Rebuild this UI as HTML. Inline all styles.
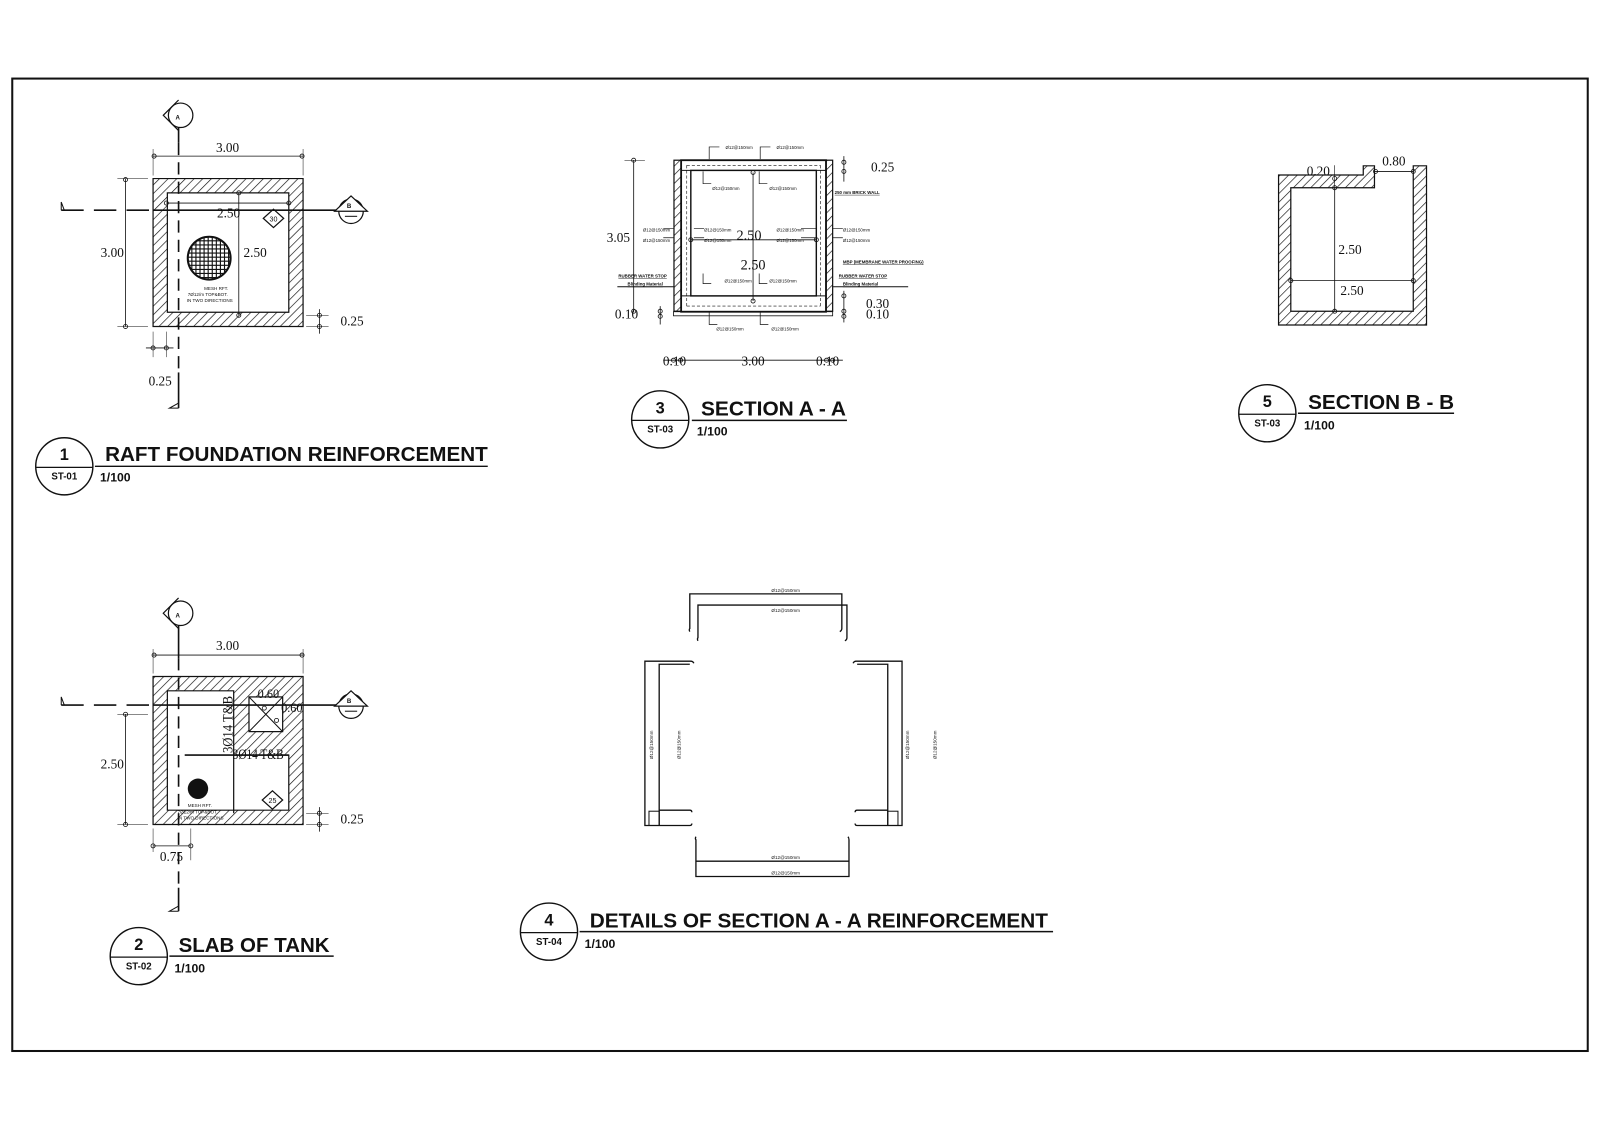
<!DOCTYPE html>
<html><head><meta charset="utf-8"><style>
html,body{margin:0;padding:0;background:#fff;}
svg{display:block;}
.s{font-family:"Liberation Serif",serif;fill:#111;}
.b{font-family:"Liberation Sans",sans-serif;font-weight:bold;fill:#111;}
.t{font-family:"Liberation Sans",sans-serif;fill:#111;}
</style></head><body>
<svg width="1600" height="1131" viewBox="0 0 1568 1108.4" xmlns="http://www.w3.org/2000/svg">
<defs>
<pattern id="h" patternUnits="userSpaceOnUse" width="6" height="6" patternTransform="rotate(45)">
<rect width="6" height="6" fill="#fff"/><line x1="0" y1="0" x2="0" y2="6" stroke="#111" stroke-width="1.3"/>
</pattern>
</defs>
<rect x="12" y="77" width="1544" height="953" fill="none" stroke="#111" stroke-width="2"/>

<!-- ===== Drawing 1 ===== -->
<g stroke="#111" fill="none">
<path d="M150,175H297V320H150Z M164,189V306H283V189Z" fill="url(#h)" fill-rule="evenodd" stroke-width="1.2"/>
<line x1="175" y1="103" x2="175" y2="140" stroke-width="1.6"/>
<line x1="175" y1="140" x2="175" y2="365" stroke-width="1.6" stroke-dasharray="12,7"/>
<line x1="175" y1="365" x2="175" y2="400" stroke-width="1.6"/>
<path d="M175,400 L166,400 L175,395" stroke-width="1"/>
<circle cx="177" cy="113" r="12" fill="#fff" stroke-width="1.2"/>
<path d="M175,98 L160,113 L175,128" stroke-width="1.2"/>
<line x1="60" y1="206" x2="150" y2="206" stroke-width="1.6" stroke-dasharray="22,10"/>
<line x1="150" y1="206" x2="330" y2="206" stroke-width="1.6"/>
<path d="M60,206 V198 L63,206" stroke-width="1"/>
<circle cx="344" cy="207" r="12" fill="#fff" stroke-width="1.2"/>
<path d="M328,207 L344,192 L360,207 Z" fill="#fff" stroke-width="1.2"/>
<line x1="338" y1="212" x2="350" y2="212" stroke-width="1"/>
<line x1="150" y1="153" x2="297" y2="153" stroke-width="0.8"/>
<line x1="150" y1="146" x2="150" y2="172" stroke-width="0.5"/>
<line x1="297" y1="146" x2="297" y2="172" stroke-width="0.5"/>
<circle cx="151" cy="153" r="2" stroke-width="0.8"/><circle cx="296" cy="153" r="2" stroke-width="0.8"/>
<line x1="123" y1="175" x2="123" y2="320" stroke-width="0.8"/>
<line x1="115" y1="175" x2="145" y2="175" stroke-width="0.5"/>
<line x1="115" y1="320" x2="145" y2="320" stroke-width="0.5"/>
<circle cx="123" cy="176" r="2" stroke-width="0.8"/><circle cx="123" cy="320" r="2" stroke-width="0.8"/>
<line x1="163" y1="199" x2="283" y2="199" stroke-width="0.8"/>
<circle cx="163" cy="199" r="2" stroke-width="0.8"/><circle cx="283" cy="199" r="2" stroke-width="0.8"/>
<line x1="234" y1="189" x2="234" y2="309" stroke-width="0.8"/>
<circle cx="234" cy="189" r="2" stroke-width="0.8"/><circle cx="234" cy="309" r="2" stroke-width="0.8"/>
<line x1="313" y1="303" x2="313" y2="327" stroke-width="0.8"/>
<line x1="300" y1="309" x2="322" y2="309" stroke-width="0.5"/><line x1="300" y1="320" x2="322" y2="320" stroke-width="0.5"/>
<circle cx="313" cy="309" r="2" stroke-width="0.8"/><circle cx="313" cy="320" r="2" stroke-width="0.8"/>
<line x1="143" y1="341" x2="170" y2="341" stroke-width="0.8"/>
<line x1="150" y1="325" x2="150" y2="350" stroke-width="0.5"/><line x1="163" y1="325" x2="163" y2="350" stroke-width="0.5"/>
<circle cx="150" cy="341" r="2" stroke-width="0.8"/><circle cx="163" cy="341" r="2" stroke-width="0.8"/>
<path d="M268,205 L278,214 L268,223 L258,214 Z" stroke-width="1.2"/>
</g>
<g>
<clipPath id="c1"><circle cx="205" cy="253" r="21"/></clipPath>
<circle cx="205" cy="253" r="21" fill="#fff" stroke="#111" stroke-width="2"/>
<g clip-path="url(#c1)" stroke="#111" stroke-width="1.1">
<path d="M184,236H226M184,240H226M184,244H226M184,248H226M184,252H226M184,256H226M184,260H226M184,264H226M184,268H226M184,272H226M188,232V274M192,232V274M196,232V274M200,232V274M204,232V274M208,232V274M212,232V274M216,232V274M220,232V274M224,232V274"/>
</g>
</g>
<text x="223" y="149" class="s" font-size="13" text-anchor="middle">3.00</text>
<text x="110" y="252" class="s" font-size="13" text-anchor="middle">3.00</text>
<text x="224" y="213" class="s" font-size="13" text-anchor="middle">2.50</text>
<text x="250" y="252" class="s" font-size="13" text-anchor="middle">2.50</text>
<text x="345" y="319" class="s" font-size="13" text-anchor="middle">0.25</text>
<text x="157" y="378" class="s" font-size="13" text-anchor="middle">0.25</text>
<text x="268" y="217" class="t" font-size="7" text-anchor="middle">30</text>
<text x="200" y="284" class="t" font-size="4.5">MESH RFT.</text>
<text x="184" y="290" class="t" font-size="4.5">7Ø12/m   TOP&amp;BOT.</text>
<text x="183" y="296" class="t" font-size="4.5">IN TWO DIRECTIONS</text>
<text x="172" y="117" class="b" font-size="6">A</text>
<text x="340" y="204" class="b" font-size="6">B</text>

<!-- Title 1 -->
<g stroke="#111" fill="none"><circle cx="63" cy="457" r="28" stroke-width="1.4"/><line x1="35" y1="458" x2="91" y2="458" stroke-width="1.2"/><line x1="93" y1="457" x2="478" y2="457" stroke-width="1.4"/></g>
<text x="63" y="451" class="b" font-size="16" text-anchor="middle">1</text>
<text x="63" y="470" class="b" font-size="9.5" text-anchor="middle">ST-01</text>
<text x="103" y="452" class="b" font-size="19.5" textLength="375" lengthAdjust="spacingAndGlyphs">RAFT FOUNDATION REINFORCEMENT</text>
<text x="98" y="472" class="b" font-size="12">1/100</text>

<!-- ===== Drawing 2 ===== -->
<g stroke="#111" fill="none">
<path d="M150,663H297V808H150Z M164,677V794H283V740H229V677Z" fill="url(#h)" fill-rule="evenodd" stroke-width="1.2"/>
<rect x="244" y="683" width="33" height="34" fill="#fff" stroke-width="1.2"/>
<path d="M244,683L277,717M277,683L244,717" stroke-width="1"/>
<line x1="181" y1="740" x2="283" y2="740" stroke-width="1.6"/>
<line x1="229" y1="740" x2="229" y2="797" stroke-width="1.2"/>
<line x1="175" y1="600" x2="175" y2="645" stroke-width="1.6"/>
<line x1="175" y1="645" x2="175" y2="870" stroke-width="1.6" stroke-dasharray="12,7"/>
<line x1="175" y1="870" x2="175" y2="893" stroke-width="1.6"/>
<path d="M175,893 L166,893 L175,888" stroke-width="1"/>
<circle cx="177" cy="601" r="12" fill="#fff" stroke-width="1.2"/>
<path d="M175,586 L160,601 L175,616" stroke-width="1.2"/>
<line x1="60" y1="691" x2="150" y2="691" stroke-width="1.6" stroke-dasharray="22,10"/>
<line x1="150" y1="691" x2="330" y2="691" stroke-width="1.6"/>
<path d="M60,691 V683 L63,691" stroke-width="1"/>
<circle cx="344" cy="692" r="12" fill="#fff" stroke-width="1.2"/>
<path d="M328,692 L344,677 L360,692 Z" fill="#fff" stroke-width="1.2"/>
<line x1="338" y1="697" x2="350" y2="697" stroke-width="1"/>
<line x1="150" y1="642" x2="297" y2="642" stroke-width="0.8"/>
<line x1="150" y1="635" x2="297" y2="635" stroke-width="0" />
<line x1="150" y1="636" x2="150" y2="660" stroke-width="0.5"/><line x1="297" y1="636" x2="297" y2="660" stroke-width="0.5"/>
<circle cx="151" cy="642" r="2" stroke-width="0.8"/><circle cx="296" cy="642" r="2" stroke-width="0.8"/>
<line x1="123" y1="700" x2="123" y2="808" stroke-width="0.8"/>
<line x1="115" y1="700" x2="145" y2="700" stroke-width="0.5"/><line x1="115" y1="808" x2="145" y2="808" stroke-width="0.5"/>
<circle cx="123" cy="700" r="2" stroke-width="0.8"/><circle cx="123" cy="808" r="2" stroke-width="0.8"/>
<line x1="313" y1="791" x2="313" y2="815" stroke-width="0.8"/>
<line x1="300" y1="797" x2="322" y2="797" stroke-width="0.5"/><line x1="300" y1="808" x2="322" y2="808" stroke-width="0.5"/>
<circle cx="313" cy="797" r="2" stroke-width="0.8"/><circle cx="313" cy="808" r="2" stroke-width="0.8"/>
<line x1="150" y1="829" x2="187" y2="829" stroke-width="0.8"/>
<line x1="150" y1="812" x2="150" y2="835" stroke-width="0.5"/><line x1="187" y1="812" x2="187" y2="843" stroke-width="0.5"/>
<circle cx="150" cy="829" r="2" stroke-width="0.8"/><circle cx="187" cy="829" r="2" stroke-width="0.8"/>
<path d="M267,775 L277,784 L267,793 L257,784 Z" stroke-width="1.2"/>
<circle cx="259" cy="694" r="2" stroke-width="0.8"/><circle cx="271" cy="706" r="2" stroke-width="0.8"/>
</g>
<circle cx="194" cy="773" r="10" fill="#111"/>
<text x="223" y="637" class="s" font-size="13" text-anchor="middle">3.00</text>
<text x="110" y="753" class="s" font-size="13" text-anchor="middle">2.50</text>
<text x="345" y="807" class="s" font-size="13" text-anchor="middle">0.25</text>
<text x="168" y="844" class="s" font-size="13" text-anchor="middle">0.75</text>
<text x="263" y="684" class="s" font-size="12" text-anchor="middle">0.60</text>
<text x="286" y="698" class="s" font-size="12" text-anchor="middle">0.60</text>
<text x="253" y="744" class="s" font-size="14" text-anchor="middle" textLength="50" lengthAdjust="spacingAndGlyphs">3Ø14 T&amp;B</text>
<text transform="translate(228,738) rotate(-90)" class="s" font-size="14" textLength="56" lengthAdjust="spacingAndGlyphs">3Ø14 T&amp;B</text>
<text x="267" y="787" class="t" font-size="7" text-anchor="middle">25</text>
<text x="184" y="791" class="t" font-size="4.5">MESH RFT.</text>
<text x="174" y="797" class="t" font-size="4.5">7Ø12/m   TOP&amp;BOT.</text>
<text x="174" y="803" class="t" font-size="4.5">IN TWO DIRECTIONS</text>
<text x="172" y="605" class="b" font-size="6">A</text>
<text x="340" y="689" class="b" font-size="6">B</text>

<!-- Title 2 -->
<g stroke="#111" fill="none"><circle cx="136" cy="937" r="28" stroke-width="1.4"/><line x1="108" y1="938" x2="164" y2="938" stroke-width="1.2"/><line x1="166" y1="937" x2="327" y2="937" stroke-width="1.4"/></g>
<text x="136" y="931" class="b" font-size="16" text-anchor="middle">2</text>
<text x="136" y="950" class="b" font-size="9.5" text-anchor="middle">ST-02</text>
<text x="175" y="933" class="b" font-size="19.5" textLength="148" lengthAdjust="spacingAndGlyphs">SLAB OF TANK</text>
<text x="171" y="953" class="b" font-size="12">1/100</text>

<!-- ===== Section A-A ===== -->
<g stroke="#111" fill="none">
<rect x="660.5" y="157" width="7" height="148" fill="url(#h)" stroke-width="1.2"/>
<rect x="809.5" y="157" width="6.5" height="148" fill="url(#h)" stroke-width="1.2"/>
<rect x="667.5" y="157" width="142" height="148.5" stroke-width="1.8"/>
<rect x="677" y="167" width="123" height="123" stroke-width="1.4"/>
<line x1="667.5" y1="167" x2="809.5" y2="167" stroke-width="1"/>
<line x1="667.5" y1="290" x2="809.5" y2="290" stroke-width="1"/>
<line x1="673" y1="162" x2="804" y2="162" stroke-width="0.6" stroke-dasharray="3,2"/>
<line x1="673" y1="300" x2="804" y2="300" stroke-width="0.6" stroke-dasharray="3,2"/>
<line x1="673" y1="162" x2="673" y2="300" stroke-width="0.6" stroke-dasharray="3,2"/>
<line x1="804" y1="162" x2="804" y2="300" stroke-width="0.6" stroke-dasharray="3,2"/>
<rect x="660" y="305.5" width="156" height="4" stroke-width="0.8"/>
<line x1="605" y1="281" x2="660" y2="281" stroke-width="1"/>
<line x1="816" y1="281" x2="890" y2="281" stroke-width="1"/>
<line x1="621" y1="157" x2="621" y2="306" stroke-width="0.8"/>
<line x1="612" y1="157" x2="632" y2="157" stroke-width="0.5"/>
<circle cx="621" cy="157" r="2" stroke-width="0.8"/><circle cx="621" cy="305" r="2" stroke-width="0.8"/>
<line x1="677" y1="235" x2="800" y2="235" stroke-width="0.8"/>
<circle cx="677" cy="235" r="2" stroke-width="0.8"/><circle cx="800" cy="235" r="2" stroke-width="0.8"/>
<line x1="738" y1="169" x2="738" y2="295" stroke-width="0.8"/>
<circle cx="738" cy="169" r="2" stroke-width="0.8"/><circle cx="738" cy="295" r="2" stroke-width="0.8"/>
<line x1="650" y1="353" x2="826" y2="353" stroke-width="0.8"/>
<circle cx="660" cy="353" r="2" stroke-width="0.8"/><circle cx="667" cy="353" r="2" stroke-width="0.8"/>
<circle cx="810" cy="353" r="2" stroke-width="0.8"/><circle cx="816" cy="353" r="2" stroke-width="0.8"/>
<line x1="827" y1="153" x2="827" y2="178" stroke-width="0.8"/>
<circle cx="827" cy="159" r="2" stroke-width="0.8"/><circle cx="827" cy="168" r="2" stroke-width="0.8"/>
<line x1="827" y1="285" x2="827" y2="316" stroke-width="0.8"/>
<circle cx="827" cy="290" r="2" stroke-width="0.8"/><circle cx="827" cy="305" r="2" stroke-width="0.8"/><circle cx="827" cy="310" r="2" stroke-width="0.8"/>
<line x1="647" y1="300" x2="647" y2="318" stroke-width="0.8"/>
<circle cx="647" cy="305" r="2" stroke-width="0.8"/><circle cx="647" cy="310" r="2" stroke-width="0.8"/>
<g stroke-width="0.7">
<path d="M695,156V144H705M745,156V144H755M689,168V180H697M744,168V180H752M689,268V278H697M744,268V278H752M695,306V318H703M745,306V318H753"/>
<path d="M650,224H660M650,233H660M680,224H690M680,233H690M785,224H800M785,233H800M816,224H826M816,233H826"/>
</g>
</g>
<g class="t" font-size="4.3">
<text x="711" y="146">Ø12@150mm</text><text x="761" y="146">Ø12@150mm</text>
<text x="698" y="186">Ø12@150mm</text><text x="754" y="186">Ø12@150mm</text>
<text x="630" y="227">Ø12@150mm</text><text x="630" y="237">Ø12@150mm</text>
<text x="690" y="227">Ø12@150mm</text><text x="690" y="237">Ø12@150mm</text>
<text x="761" y="227">Ø12@150mm</text><text x="761" y="237">Ø12@150mm</text>
<text x="826" y="227">Ø12@150mm</text><text x="826" y="237">Ø12@150mm</text>
<text x="710" y="277">Ø12@150mm</text><text x="754" y="277">Ø12@150mm</text>
<text x="702" y="324">Ø12@150mm</text><text x="756" y="324">Ø12@150mm</text>
<text x="818" y="190" font-weight="bold" text-decoration="underline">250 mm BRICK WALL</text>
<text x="826" y="258" font-weight="bold" text-decoration="underline">MBP (MEMBRANE WATER PROOFING)</text>
<text x="606" y="272" font-weight="bold" text-decoration="underline">RUBBER WATER STOP</text>
<text x="615" y="280" font-weight="bold" text-decoration="underline">Blinding Material</text>
<text x="822" y="272" font-weight="bold" text-decoration="underline">RUBBER WATER STOP</text>
<text x="826" y="280" font-weight="bold" text-decoration="underline">Blinding Material</text>
</g>
<text x="606" y="237" class="s" font-size="13" text-anchor="middle">3.05</text>
<text x="734" y="235" class="s" font-size="14" text-anchor="middle">2.50</text>
<text x="738" y="264" class="s" font-size="14" text-anchor="middle">2.50</text>
<text x="865" y="168" class="s" font-size="13" text-anchor="middle">0.25</text>
<text x="860" y="302" class="s" font-size="13" text-anchor="middle">0.30</text>
<text x="860" y="312" class="s" font-size="13" text-anchor="middle">0.10</text>
<text x="614" y="312" class="s" font-size="13" text-anchor="middle">0.10</text>
<text x="661" y="358" class="s" font-size="13" text-anchor="middle">0.10</text>
<text x="738" y="358" class="s" font-size="13" text-anchor="middle">3.00</text>
<text x="811" y="358" class="s" font-size="13" text-anchor="middle">0.10</text>

<!-- Title 3 -->
<g stroke="#111" fill="none"><circle cx="647" cy="411" r="28" stroke-width="1.4"/><line x1="619" y1="412" x2="675" y2="412" stroke-width="1.2"/><line x1="678" y1="412" x2="830" y2="412" stroke-width="1.4"/></g>
<text x="647" y="405" class="b" font-size="16" text-anchor="middle">3</text>
<text x="647" y="424" class="b" font-size="9.5" text-anchor="middle">ST-03</text>
<text x="687" y="407" class="b" font-size="19.5" textLength="142" lengthAdjust="spacingAndGlyphs">SECTION A - A</text>
<text x="683" y="427" class="b" font-size="12">1/100</text>

<!-- ===== Section B-B ===== -->
<g stroke="#111" fill="none">
<path d="M1253,171.5 H1336 V162.5 H1347 V184 H1265 V305 H1385 V162.5 H1398 V318.5 H1253 Z" fill="url(#h)" stroke-width="1.2"/>
<line x1="1308" y1="184" x2="1308" y2="305" stroke-width="0.8"/>
<circle cx="1308" cy="184" r="2" stroke-width="0.8"/><circle cx="1308" cy="305" r="2" stroke-width="0.8"/>
<circle cx="1308" cy="175" r="2" stroke-width="0.8"/>
<line x1="1308" y1="162" x2="1308" y2="184" stroke-width="0.6"/>
<line x1="1265" y1="275" x2="1385" y2="275" stroke-width="0.8"/>
<circle cx="1265" cy="275" r="2" stroke-width="0.8"/><circle cx="1385" cy="275" r="2" stroke-width="0.8"/>
<line x1="1347" y1="168" x2="1385" y2="168" stroke-width="0.8"/>
<circle cx="1348" cy="168" r="2" stroke-width="0.8"/><circle cx="1385" cy="168" r="2" stroke-width="0.8"/>
</g>
<text x="1292" y="172" class="s" font-size="13" text-anchor="middle">0.20</text>
<text x="1366" y="162" class="s" font-size="13" text-anchor="middle">0.80</text>
<text x="1323" y="249" class="s" font-size="13" text-anchor="middle">2.50</text>
<text x="1325" y="289" class="s" font-size="13" text-anchor="middle">2.50</text>

<!-- Title 5 -->
<g stroke="#111" fill="none"><circle cx="1242" cy="405" r="28" stroke-width="1.4"/><line x1="1214" y1="406" x2="1270" y2="406" stroke-width="1.2"/><line x1="1272" y1="405" x2="1425" y2="405" stroke-width="1.4"/></g>
<text x="1242" y="399" class="b" font-size="16" text-anchor="middle">5</text>
<text x="1242" y="418" class="b" font-size="9.5" text-anchor="middle">ST-03</text>
<text x="1282" y="401" class="b" font-size="19.5" textLength="143" lengthAdjust="spacingAndGlyphs">SECTION B - B</text>
<text x="1278" y="421" class="b" font-size="12">1/100</text>

<!-- ===== Detail 4 ===== -->
<g stroke="#111" fill="none" stroke-width="1.3">
<path d="M676,619 Q675,617 676,616 V582 H825 V616 Q825,618 823,619"/>
<path d="M684,628 Q683,626 684,625 V593 H830 V625 Q830,627 828,628"/>
<path d="M680,650 Q679,648 677,648 H632 V809 H676 Q678,809 678,807"/>
<path d="M676,651 H646 V809"/>
<path d="M646,794 H676 Q678,794 678,796"/>
<rect x="636" y="795" width="10" height="14" stroke-width="1"/>
<path d="M836,650 Q837,648 839,648 H884 V809 H840 Q838,809 838,807"/>
<path d="M840,651 H870 V809"/>
<path d="M870,794 H840 Q838,794 838,796"/>
<rect x="870" y="795" width="10" height="14" stroke-width="1"/>
<path d="M682,820 Q681,822 682,823 V859 H832 V823 Q832,821 831,820"/>
<path d="M682,844 H832"/>
</g>
<g class="t" font-size="4.5" text-anchor="middle">
<text x="770" y="580">Ø12@150mm</text><text x="770" y="600">Ø12@150mm</text>
<text x="770" y="842">Ø12@150mm</text><text x="770" y="857">Ø12@150mm</text>
<text transform="translate(640,730) rotate(-90)">Ø12@150mm</text>
<text transform="translate(667,730) rotate(-90)">Ø12@150mm</text>
<text transform="translate(891,730) rotate(-90)">Ø12@150mm</text>
<text transform="translate(918,730) rotate(-90)">Ø12@150mm</text>
</g>

<!-- Title 4 -->
<g stroke="#111" fill="none"><circle cx="538" cy="913" r="28" stroke-width="1.4"/><line x1="510" y1="914" x2="566" y2="914" stroke-width="1.2"/><line x1="568" y1="913" x2="1032" y2="913" stroke-width="1.4"/></g>
<text x="538" y="907" class="b" font-size="16" text-anchor="middle">4</text>
<text x="538" y="926" class="b" font-size="9.5" text-anchor="middle">ST-04</text>
<text x="578" y="909" class="b" font-size="19.5" textLength="449" lengthAdjust="spacingAndGlyphs">DETAILS OF SECTION A - A REINFORCEMENT</text>
<text x="573" y="929" class="b" font-size="12">1/100</text>
</svg>
</body></html>
